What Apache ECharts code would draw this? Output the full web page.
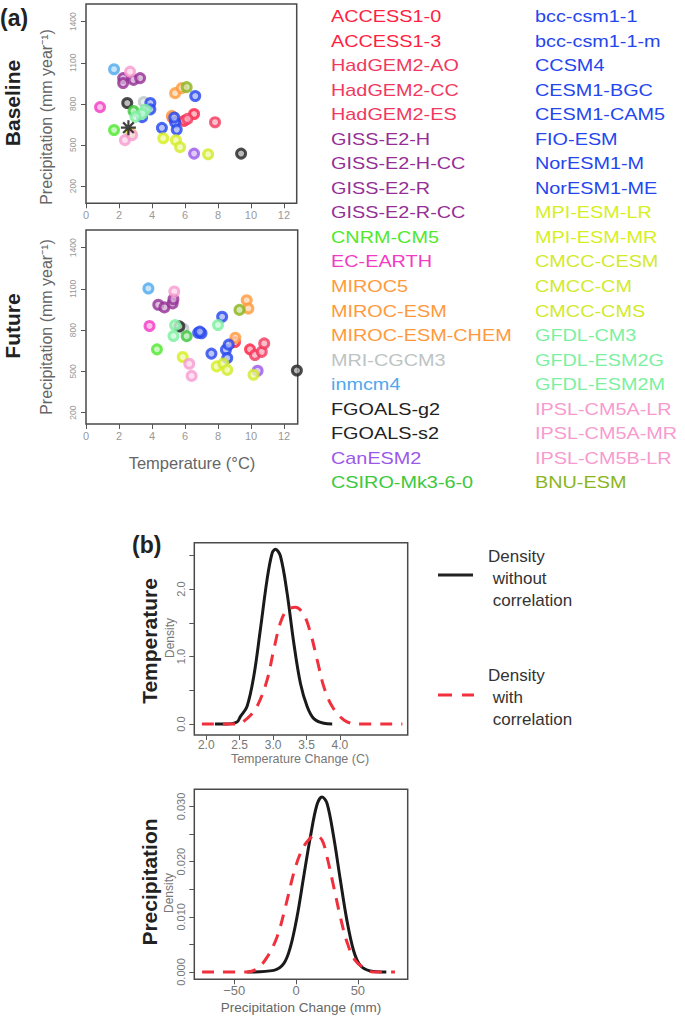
<!DOCTYPE html>
<html><head><meta charset="utf-8">
<script src="https://cdn.jsdelivr.net/npm/echarts@6/dist/echarts.min.js"></script>
<style>html,body{margin:0;padding:0;background:#fff}#c{width:685px;height:1016px}</style>
</head><body><div id="c"></div>
<script>
// ---------- data ----------
const models = ['ACCESS1-0','ACCESS1-3','HadGEM2-AO','HadGEM2-CC','HadGEM2-ES','GISS-E2-H','GISS-E2-H-CC','GISS-E2-R','GISS-E2-R-CC','CNRM-CM5','EC-EARTH','MIROC5','MIROC-ESM','MIROC-ESM-CHEM','MRI-CGCM3','inmcm4','FGOALS-g2','FGOALS-s2','CanESM2','CSIRO-Mk3-6-0',
 'bcc-csm1-1','bcc-csm1-1-m','CCSM4','CESM1-BGC','CESM1-CAM5','FIO-ESM','NorESM1-M','NorESM1-ME','MPI-ESM-LR','MPI-ESM-MR','CMCC-CESM','CMCC-CM','CMCC-CMS','GFDL-CM3','GFDL-ESM2G','GFDL-ESM2M','IPSL-CM5A-LR','IPSL-CM5A-MR','IPSL-CM5B-LR','BNU-ESM'];
const modelColors = ['#ff1f42','#ff1f42','#f2385e','#f2385e','#f2385e','#952f96','#952f96','#952f96','#952f96','#4fe82e','#f23bc4','#ff9a3c','#ff9a3c','#ff9a3c','#bcc4c4','#4fa9ee','#222222','#222222','#9b59ea','#3dc83d',
 '#2446ee','#2446ee','#2446ee','#2446ee','#2446ee','#2446ee','#2446ee','#2446ee','#d6ef1f','#d6ef1f','#d2ea2a','#d2ea2a','#d2ea2a','#7cf0a0','#7cf0a0','#7cf0a0','#f79bcf','#f79bcf','#f79bcf','#8ab51c'];

const baseTemp   = [6.55,5.95,7.82,5.25,6.15, 2.25,2.25,2.88,3.28, 1.70,0.85, 5.20,5.40,5.80, 3.50,1.70, 2.50,9.40, 6.55,2.88,
                    3.90,3.90,3.40,4.60,5.40,5.50,6.62,5.35, 4.68,5.45, 5.70,7.40,2.72, 3.60,3.40,3.00, 2.67,2.36,2.80, 6.10];
const basePrecip = [726,676,666,700,690, 988,952,975,988, 609,776, 712,878,915, 814,1053, 806,437, 437,748,
                    806,760,703,625,665,612,857,700, 549,534, 484,432,585, 757,728,705, 1035,535,572, 922];
const futTemp    = [9.03,9.94,10.24,10.65,10.80, 4.38,4.75,5.25,5.30, 4.30,3.85, 9.05,9.74,9.84, 5.90,3.78, 5.66,12.78, 10.40,6.10,
                    6.80,7.00,6.90,8.25,7.60,8.48,8.65,8.56, 5.86,7.92, 8.32,8.56,10.15, 5.40,5.30,8.00, 5.35,6.26,6.40, 9.30];
const futPrecip  = [714,661,620,643,704, 985,966,995,1025, 661,831, 745,1018,958, 812,1104, 828,507, 505,757,
                    782,778,790,898,630,658,695,598, 605,537, 558,512,476, 837,758,838, 1082,556,468, 948];
const obsTemp = [2.57];
const obsPrecip = [626];

const tempTicks = [0,2,4,6,8,10,12];
const precipTicks = [200,500,800,1100,1400];

// density of temperature change
const tNoCorrX = [2.13,2.30,2.46,2.51,2.61,2.71,2.81,2.91,2.985,3.035,3.11,3.21,3.31,3.41,3.51,3.61,3.76,3.885];
const tNoCorrY = [0,0,0.03,0.11,0.26,0.70,1.40,2.14,2.53,2.59,2.49,1.94,1.20,0.60,0.26,0.08,0.01,0];
const tCorrX = [1.935,2.46,2.61,2.76,2.91,3.01,3.11,3.21,3.335,3.46,3.56,3.66,3.76,3.885,4.06,4.26,4.935];
const tCorrY = [0,0,0.08,0.26,0.65,1.10,1.50,1.69,1.73,1.62,1.35,0.95,0.55,0.26,0.06,0,0];
const tChangeTicks = [2.0,2.5,3.0,3.5,4.0];
const tDensTicks = [0,0.5,1.0,1.5,2.0,2.5];
const tDensLabels = [0,1.0,2.0];

// density of precipitation change
const pNoCorrX = [-39.5,-18,-10,-4.6,0.8,6.2,11.6,16.9,21,25,30.4,35.8,41.1,46.5,51.9,60,73];
const pNoCorrY = [0,0.0003,0.0015,0.0045,0.010,0.0173,0.0245,0.0303,0.0317,0.0306,0.0245,0.0167,0.0094,0.0039,0.0012,0.0002,0];
const pCorrX = [-76,-39.5,-31.5,-23.4,-15.3,-8.6,-1.9,3.5,8.9,15.6,21,25,30.4,35.8,41.1,47.8,57.3,62.6,80];
const pCorrY = [0,0,0.0006,0.0027,0.0064,0.0118,0.0179,0.0215,0.0236,0.0248,0.0239,0.0209,0.0155,0.0100,0.0055,0.0021,0.0004,0,0];
const pChangeTicks = [-50,0,50];
const pDensTicks = [0,0.005,0.01,0.015,0.02,0.025,0.03];
const pDensLabels = [0,0.01,0.02,0.03];

// ---------- helpers ----------
const FONT = '"Liberation Sans", Arial, sans-serif';
function lighten(hex, f){
  const n = parseInt(hex.slice(1),16);
  const r=(n>>16)&255,g=(n>>8)&255,b=n&255;
  const m=c=>Math.round(c+(255-c)*f);
  return 'rgb('+m(r)+','+m(g)+','+m(b)+')';
}
function pts(xs, ys){ return xs.map((x,i)=>[x, ys[i]]); }
function modelPts(xs, ys){
  return xs.map((x,i)=>({value:[x, ys[i]], name: models[i],
    itemStyle:{color: lighten(modelColors[i],0.6), borderColor: modelColors[i], borderWidth: 3}}));
}
const starPath = 'path://M-1,-7L1,-7L1,7L-1,7Z M-7,-1L7,-1L7,1L-7,1Z M4.24,-5.66L5.66,-4.24L-4.24,5.66L-5.66,4.24Z M-5.66,-4.24L-4.24,-5.66L5.66,4.24L4.24,5.66Z';

function xAx(gi, min, max, ticks, fmt, fs, margin, color){
  return {type:'value', gridIndex:gi, min:min, max:max, axisLine:{show:false, onZero:false}, splitLine:{show:false},
    axisTick:{show:true, length:5, customValues:ticks, lineStyle:{color:'#555', width:1}},
    axisLabel:{customValues:ticks, formatter:fmt, fontSize:fs, color:color, margin:margin, fontFamily:FONT}};
}
function yAx(gi, min, max, ticks, labels, fmt, fs, margin, color){
  return {type:'value', gridIndex:gi, min:min, max:max, axisLine:{show:false, onZero:false}, splitLine:{show:false},
    axisTick:{show:true, length:5, customValues:ticks, lineStyle:{color:'#555', width:1}},
    axisLabel:{customValues:labels, formatter:fmt, fontSize:fs, color:color, margin:margin, rotate:90, fontFamily:FONT}};
}
const gridStyle = {show:true, borderColor:'#4a4a4a', borderWidth:1.5, backgroundColor:'transparent', outerBoundsMode:'none'};

function txt(text, x, y, opt){
  opt = opt || {};
  return {type:'text', x:x, y:y, rotation: opt.rot||0, scaleX: opt.sx||1, scaleY: opt.sy||1, silent:true,
    style:{text:text, fill:opt.fill||'#222', font:(opt.weight||'normal')+' '+(opt.size||14)+'px '+FONT,
      textAlign:opt.align||'center', textVerticalAlign:'middle', align:opt.align||'center', verticalAlign:'middle'}};
}

const graphics = [];
// panel labels
graphics.push(txt('(a)', 0, 17.5, {weight:'bold', size:23, align:'left'}));
graphics.push(txt('(b)', 132, 545, {weight:'bold', size:23, align:'left'}));
graphics.push(txt('Baseline', 12, 103, {weight:'bold', size:21, rot:Math.PI/2}));
graphics.push(txt('Future', 12, 326, {weight:'bold', size:21, rot:Math.PI/2}));
graphics.push(txt('Precipitation (mm year\u207B\u00B9)', 46, 117, {size:16, fill:'#666', rot:Math.PI/2}));
graphics.push(txt('Precipitation (mm year\u207B\u00B9)', 46, 327, {size:16, fill:'#666', rot:Math.PI/2}));
graphics.push(txt('Temperature (\u00B0C)', 192, 463, {size:16.5, fill:'#666'}));
graphics.push(txt('Temperature', 149, 641, {weight:'bold', size:21, rot:Math.PI/2}));
graphics.push(txt('Precipitation', 149, 882, {weight:'bold', size:21, rot:Math.PI/2}));
graphics.push(txt('Density', 170, 638, {size:12, fill:'#777', rot:Math.PI/2}));
graphics.push(txt('Density', 169, 893, {size:12, fill:'#777', rot:Math.PI/2}));
graphics.push(txt('Temperature Change (C)', 300, 759, {size:12.5, fill:'#777'}));
graphics.push(txt('Precipitation Change (mm)', 301, 1007, {size:13.5, fill:'#666'}));
// model legend
models.forEach((m,i)=>{
  graphics.push(txt(m, i<20?331:535, 16.7 + (i%20)*24.54, {size:16, fill:modelColors[i], align:'left', sx:1.24}));
});
// density legend
graphics.push({type:'line', shape:{x1:438,y1:575,x2:473,y2:575}, style:{stroke:'#222', lineWidth:3}});
graphics.push({type:'line', shape:{x1:438,y1:695,x2:452,y2:695}, style:{stroke:'#f0303c', lineWidth:3}});
graphics.push({type:'line', shape:{x1:462,y1:695,x2:474,y2:695}, style:{stroke:'#f0303c', lineWidth:3}});
[['Density',488,556.5],[' without',488,578.5],[' correlation',488,600.5],
 ['Density',488,675],[' with',488,697],[' correlation',488,719]].forEach(t=>{
  graphics.push(txt(t[0], t[1], t[2], {size:17, fill:'#333', align:'left'}));
});

const option = {
  animation:false,
  backgroundColor:'#fff',
  grid:[
    Object.assign({left:86, top:4, width:210.7, height:199.3}, gridStyle),
    Object.assign({left:86, top:230, width:211.7, height:194}, gridStyle),
    Object.assign({left:194.3, top:542.7, width:213.4, height:192.3}, gridStyle),
    Object.assign({left:194.3, top:789.3, width:213.4, height:190}, gridStyle)
  ],
  xAxis:[
    xAx(0, 0, 12.77, tempTicks, v=>String(v), 11, 6, '#999'),
    xAx(1, 0, 12.83, tempTicks, v=>String(v), 11, 6, '#999'),
    xAx(2, 1.821, 5.015, tChangeTicks, v=>v.toFixed(1), 12, 4, '#777'),
    xAx(3, -82.3, 90.3, pChangeTicks, v=>v<0?'\u2212'+Math.abs(v):String(v), 13, 5, '#777')
  ],
  yAxis:[
    yAx(0, 74, 1529, precipTicks, precipTicks, v=>String(v), 8.5, 9, '#999'),
    yAx(1, 118, 1529, precipTicks, precipTicks, v=>String(v), 8.5, 9, '#999'),
    yAx(2, -0.163, 2.687, tDensTicks, tDensLabels, v=>v.toFixed(1), 11, 8, '#777'),
    yAx(3, -0.00132, 0.0331, pDensTicks, pDensLabels, v=>v.toFixed(3), 11, 8, '#777')
  ],
  series:[
    {type:'scatter', xAxisIndex:0, yAxisIndex:0, symbol:'circle', symbolSize:9, data:modelPts(baseTemp, basePrecip)},
    {type:'scatter', xAxisIndex:0, yAxisIndex:0, symbol:starPath, symbolSize:15, itemStyle:{color:'#111'}, data:pts(obsTemp, obsPrecip)},
    {type:'scatter', xAxisIndex:1, yAxisIndex:1, symbol:'circle', symbolSize:9, data:modelPts(futTemp, futPrecip)},
    {type:'line', xAxisIndex:2, yAxisIndex:2, showSymbol:false, smooth:0.35,
      lineStyle:{color:'#1a1a1a', width:3}, data:pts(tNoCorrX, tNoCorrY)},
    {type:'line', xAxisIndex:2, yAxisIndex:2, showSymbol:false, smooth:0.35,
      lineStyle:{color:'#f0303c', width:3, type:[12,9]}, data:pts(tCorrX, tCorrY)},
    {type:'line', xAxisIndex:3, yAxisIndex:3, showSymbol:false, smooth:0.35,
      lineStyle:{color:'#1a1a1a', width:3}, data:pts(pNoCorrX, pNoCorrY)},
    {type:'line', xAxisIndex:3, yAxisIndex:3, showSymbol:false, smooth:0.35,
      lineStyle:{color:'#f0303c', width:3, type:[12,9]}, data:pts(pCorrX, pCorrY)}
  ],
  graphic:{elements:graphics}
};
const chart = echarts.init(document.getElementById('c'), null, {renderer:'svg', width:685, height:1016});
chart.setOption(option);
</script></body></html>
